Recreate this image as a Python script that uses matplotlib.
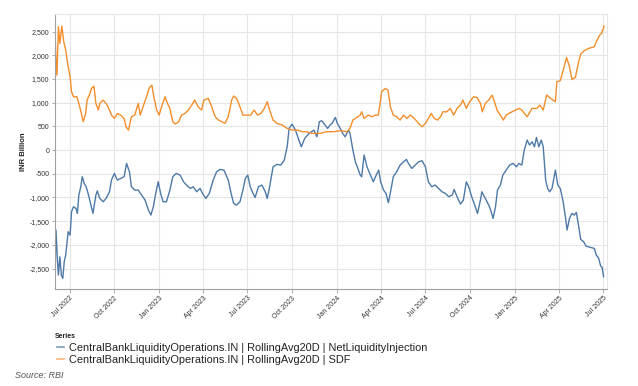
import matplotlib
matplotlib.use("Agg")
import matplotlib.pyplot as plt
import matplotlib.dates as mdates
from matplotlib.lines import Line2D
from matplotlib.ticker import FuncFormatter, MultipleLocator
import pandas as pd

sdf_dates = [
    "2022-06-01", "2022-06-03", "2022-06-05", "2022-06-08", "2022-06-11", "2022-06-15", "2022-06-19", "2022-06-23",
    "2022-06-28", "2022-07-02", "2022-07-05", "2022-07-09", "2022-07-16", "2022-07-20", "2022-07-26", "2022-07-29",
    "2022-08-03", "2022-08-06", "2022-08-12", "2022-08-15", "2022-08-20", "2022-08-24", "2022-08-29", "2022-09-01",
    "2022-09-08", "2022-09-14", "2022-09-18", "2022-09-25", "2022-10-01", "2022-10-07", "2022-10-14", "2022-10-21",
    "2022-10-25", "2022-10-30", "2022-11-05", "2022-11-12", "2022-11-19", "2022-11-23", "2022-11-29", "2022-12-06",
    "2022-12-12", "2022-12-17", "2022-12-21", "2022-12-27", "2023-01-01", "2023-01-06", "2023-01-13", "2023-01-18",
    "2023-01-23", "2023-01-29", "2023-02-03", "2023-02-10", "2023-02-16", "2023-02-23", "2023-03-02", "2023-03-09",
    "2023-03-15", "2023-03-22", "2023-03-29", "2023-04-03", "2023-04-12", "2023-04-19", "2023-04-26", "2023-05-03",
    "2023-05-09", "2023-05-16", "2023-05-23", "2023-05-30", "2023-06-03", "2023-06-09", "2023-06-16", "2023-06-22",
    "2023-06-30", "2023-07-08", "2023-07-15", "2023-07-22", "2023-07-29", "2023-08-05", "2023-08-11", "2023-08-16",
    "2023-08-23", "2023-08-31", "2023-09-11", "2023-09-21", "2023-10-01", "2023-10-12", "2023-10-22", "2023-10-31",
    "2023-11-11", "2023-11-22", "2023-11-28", "2023-12-11", "2023-12-25", "2024-01-08", "2024-01-22", "2024-01-28",
    "2024-02-03", "2024-02-11", "2024-02-18", "2024-02-21", "2024-02-26", "2024-03-06", "2024-03-13", "2024-03-20",
    "2024-03-26", "2024-03-30", "2024-04-02", "2024-04-09", "2024-04-15", "2024-04-20", "2024-04-26", "2024-05-03",
    "2024-05-10", "2024-05-17", "2024-05-24", "2024-05-31", "2024-06-08", "2024-06-17", "2024-06-24", "2024-07-01",
    "2024-07-07", "2024-07-13", "2024-07-19", "2024-07-26", "2024-08-01", "2024-08-06", "2024-08-14", "2024-08-21",
    "2024-08-28", "2024-09-04", "2024-09-11", "2024-09-16", "2024-09-23", "2024-09-30", "2024-10-08", "2024-10-15",
    "2024-10-22", "2024-10-26", "2024-11-01", "2024-11-08", "2024-11-15", "2024-11-20", "2024-11-25", "2024-12-02",
    "2024-12-08", "2024-12-14", "2024-12-22", "2025-01-02", "2025-01-09", "2025-01-15", "2025-01-26", "2025-02-05",
    "2025-02-15", "2025-02-21", "2025-02-28", "2025-03-07", "2025-03-13", "2025-03-20", "2025-03-25", "2025-03-28",
    "2025-04-04", "2025-04-11", "2025-04-17", "2025-04-23", "2025-04-28", "2025-05-05", "2025-05-11", "2025-05-16",
    "2025-05-23", "2025-06-01", "2025-06-13", "2025-06-18", "2025-06-24", "2025-06-28", "2025-07-03",
]
sdf_values = [
    2495, 1900, 1580, 2600, 2250, 2615, 2285, 2110,
    1760, 1547, 1230, 1125, 1125, 985, 738, 600,
    773, 1055, 1195, 1300, 1350, 985, 844, 985,
    1055, 985, 914, 738, 668, 773, 738, 668,
    492, 422, 703, 738, 985, 738, 914, 1125,
    1322, 1370, 1125, 844, 738, 914, 1125, 985,
    879, 600, 548, 600, 738, 773, 844, 950,
    1055, 914, 844, 1055, 1090, 914, 703, 633,
    600, 563, 703, 1055, 1140, 1090, 914, 738,
    738, 738, 844, 738, 773, 879, 1020, 844,
    633, 563, 527, 457, 422, 422, 387, 387,
    352, 352, 352, 387, 387, 408, 387, 457,
    633, 689, 738, 808, 668, 738, 703, 738,
    738, 985, 1230, 1300, 1265, 914, 738, 703,
    633, 738, 668, 738, 668, 563, 492, 563,
    668, 773, 668, 633, 703, 808, 808, 879,
    738, 879, 950, 1055, 879, 1020, 1125, 1110,
    985, 808, 985, 1055, 1160, 1020, 844, 738,
    633, 738, 787, 844, 879, 844, 703, 879,
    879, 950, 844, 1160, 1110, 1055, 1020, 1441,
    1462, 1722, 1954, 1757, 1490, 1532, 1828, 2025,
    2095, 2144, 2180, 2306, 2425, 2460, 2615,
]

net_dates = [
    "2022-06-01", "2022-06-03", "2022-06-06", "2022-06-08", "2022-06-11", "2022-06-14", "2022-06-17", "2022-06-20",
    "2022-06-23", "2022-06-28", "2022-07-02", "2022-07-05", "2022-07-09", "2022-07-14", "2022-07-17", "2022-07-20",
    "2022-07-24", "2022-07-27", "2022-07-31", "2022-08-04", "2022-08-08", "2022-08-13", "2022-08-18", "2022-08-24",
    "2022-08-27", "2022-09-01", "2022-09-08", "2022-09-14", "2022-09-21", "2022-09-25", "2022-10-01", "2022-10-07",
    "2022-10-14", "2022-10-21", "2022-10-26", "2022-11-01", "2022-11-05", "2022-11-12", "2022-11-19", "2022-11-26",
    "2022-12-03", "2022-12-10", "2022-12-15", "2022-12-20", "2022-12-25", "2022-12-30", "2023-01-04", "2023-01-09",
    "2023-01-16", "2023-01-23", "2023-01-29", "2023-02-05", "2023-02-13", "2023-02-20", "2023-02-26", "2023-03-06",
    "2023-03-12", "2023-03-19", "2023-03-26", "2023-03-31", "2023-04-07", "2023-04-14", "2023-04-22", "2023-04-29",
    "2023-05-06", "2023-05-14", "2023-05-23", "2023-05-28", "2023-06-03", "2023-06-09", "2023-06-16", "2023-06-22",
    "2023-06-27", "2023-07-02", "2023-07-07", "2023-07-13", "2023-07-17", "2023-07-24", "2023-07-31", "2023-08-07",
    "2023-08-11", "2023-08-16", "2023-08-23", "2023-08-31", "2023-09-08", "2023-09-15", "2023-09-21", "2023-09-25",
    "2023-10-01", "2023-10-08", "2023-10-15", "2023-10-20", "2023-10-27", "2023-11-05", "2023-11-15", "2023-11-21",
    "2023-11-26", "2023-12-01", "2023-12-08", "2023-12-13", "2023-12-18", "2023-12-22", "2023-12-29", "2024-01-02",
    "2024-01-08", "2024-01-13", "2024-01-18", "2024-01-25", "2024-01-28", "2024-02-03", "2024-02-08", "2024-02-12",
    "2024-02-18", "2024-02-21", "2024-02-26", "2024-03-03", "2024-03-10", "2024-03-16", "2024-03-22", "2024-03-27",
    "2024-03-31", "2024-04-06", "2024-04-11", "2024-04-16", "2024-04-21", "2024-04-26", "2024-05-03", "2024-05-10",
    "2024-05-17", "2024-05-23", "2024-05-27", "2024-06-03", "2024-06-10", "2024-06-17", "2024-06-24", "2024-07-01",
    "2024-07-07", "2024-07-14", "2024-07-21", "2024-07-28", "2024-08-04", "2024-08-11", "2024-08-18", "2024-08-25",
    "2024-08-29", "2024-09-04", "2024-09-11", "2024-09-17", "2024-09-23", "2024-09-28", "2024-10-04", "2024-10-09",
    "2024-10-16", "2024-10-22", "2024-10-25", "2024-11-01", "2024-11-08", "2024-11-12", "2024-11-17", "2024-11-22",
    "2024-11-26", "2024-12-02", "2024-12-07", "2024-12-14", "2024-12-21", "2024-12-28", "2025-01-04", "2025-01-09",
    "2025-01-15", "2025-01-20", "2025-01-26", "2025-01-31", "2025-02-05", "2025-02-10", "2025-02-14", "2025-02-19",
    "2025-02-24", "2025-02-28", "2025-03-05", "2025-03-09", "2025-03-13", "2025-03-18", "2025-03-25", "2025-03-30",
    "2025-04-04", "2025-04-10", "2025-04-15", "2025-04-18", "2025-04-23", "2025-04-28", "2025-05-03", "2025-05-07",
    "2025-05-12", "2025-05-16", "2025-05-22", "2025-05-27", "2025-06-05", "2025-06-13", "2025-06-17", "2025-06-22",
    "2025-06-26", "2025-06-29", "2025-07-02",
]
net_values = [
    -2670, -1687, -2320, -2636, -2250, -2636, -2706, -2355,
    -2214, -1722, -1793, -1300, -1195, -1230, -1335, -949,
    -773, -562, -703, -773, -914, -1125, -1335, -949,
    -860, -1019, -1090, -1019, -879, -633, -492, -633,
    -598, -562, -281, -457, -773, -844, -844, -949,
    -1054, -1265, -1371, -1195, -914, -668, -914, -1090,
    -1090, -844, -562, -492, -527, -668, -738, -808,
    -773, -879, -808, -914, -1019, -914, -633, -457,
    -408, -422, -633, -879, -1125, -1160, -1090, -844,
    -598, -527, -773, -914, -1000, -773, -738, -879,
    -1019, -773, -352, -302, -316, -211, 70, 457,
    548, 422, 211, 70, 246, 352, 422, 281,
    598, 619, 527, 457, 527, 563, 689, 563,
    457, 352, 281, 422, 352, 0, -246, -352,
    -527, -562, -105, -352, -527, -668, -527, -422,
    -668, -844, -914, -1111, -844, -562, -457, -316,
    -246, -197, -281, -387, -316, -246, -225, -352,
    -668, -773, -738, -808, -879, -914, -984, -949,
    -830, -984, -1139, -1054, -668, -773, -984, -1125,
    -1335, -1054, -879, -1019, -1160, -1265, -1441, -1195,
    -844, -740, -527, -422, -316, -281, -352, -281,
    -316, 0, 211, 105, 176, 70, 267, 70,
    211, 70, -633, -808, -879, -808, -422, -738,
    -809, -1090, -1441, -1687, -1441, -1335, -1371, -1314,
    -1617, -1884, -1933, -2025, -2053, -2074, -2214, -2285,
    -2446, -2474, -2670,
]

series_labels = [
    "CentralBankLiquidityOperations.IN | RollingAvg20D | NetLiquidityInjection",
    "CentralBankLiquidityOperations.IN | RollingAvg20D | SDF",
]
y_label = "INR Billion"
legend_title = "Series"
source_text = "Source: RBI"

BLUE = "#4e79a7"
ORANGE = "#f28e2b"

plt.rcParams["font.family"] = ["Liberation Sans", "DejaVu Sans"]

fig = plt.figure(figsize=(6.38, 3.86), dpi=100)
ax = fig.add_axes([0.0862, 0.2513, 0.8652, 0.7124])

ax.plot(pd.to_datetime(net_dates), net_values, color=BLUE, lw=1.0, solid_joinstyle="round")
ax.plot(pd.to_datetime(sdf_dates), sdf_values, color=ORANGE, lw=1.0, solid_joinstyle="round")

ax.set_xlim(pd.Timestamp("2022-06-01"), pd.Timestamp("2025-07-09"))
ax.set_ylim(-2930, 2870)

ax.yaxis.set_major_locator(MultipleLocator(500))
ax.yaxis.set_major_formatter(FuncFormatter(lambda v, p: f"{int(v):,}"))
ax.xaxis.set_major_locator(mdates.MonthLocator(bymonth=[1, 4, 7, 10]))
ax.xaxis.set_major_formatter(mdates.DateFormatter("%b %Y"))

ax.grid(True, color="#e6e6e6", lw=0.8)
ax.set_axisbelow(True)
for s in ["top", "right"]:
    ax.spines[s].set_color("#e6e6e6")
    ax.spines[s].set_linewidth(0.8)
for s in ["left", "bottom"]:
    ax.spines[s].set_color("#a0a0a0")
    ax.spines[s].set_linewidth(0.8)

ax.tick_params(axis="y", labelsize=5, colors="#333333", length=2.5, width=0.6, pad=1.5, color="#a0a0a0")
ax.tick_params(axis="x", labelsize=5, colors="#333333", length=3, width=0.6, pad=1, color="#a0a0a0")
for lbl in ax.get_xticklabels():
    lbl.set_rotation(45)
    lbl.set_ha("right")
    lbl.set_rotation_mode("anchor")

ax.set_ylabel(y_label, fontsize=5.5, fontweight="bold", color="#222222", labelpad=2)

fig.text(0.0862, 0.125, legend_title, fontsize=5, fontweight="bold", color="#222222")
handles = [
    Line2D([], [], color=BLUE, lw=1.2, alpha=0.75),
    Line2D([], [], color=ORANGE, lw=1.2, alpha=0.65),
]
fig.legend(handles, series_labels, loc="upper left", bbox_to_anchor=(0.0893, 0.112),
           frameon=False, fontsize=7.9, handlelength=0.6, handletextpad=0.5,
           labelspacing=0.2, borderpad=0, borderaxespad=0, labelcolor="#222222")

fig.text(0.024, 0.022, source_text, fontsize=6.5, fontstyle="italic", color="#555555")

fig.savefig("out.png", dpi=100)
